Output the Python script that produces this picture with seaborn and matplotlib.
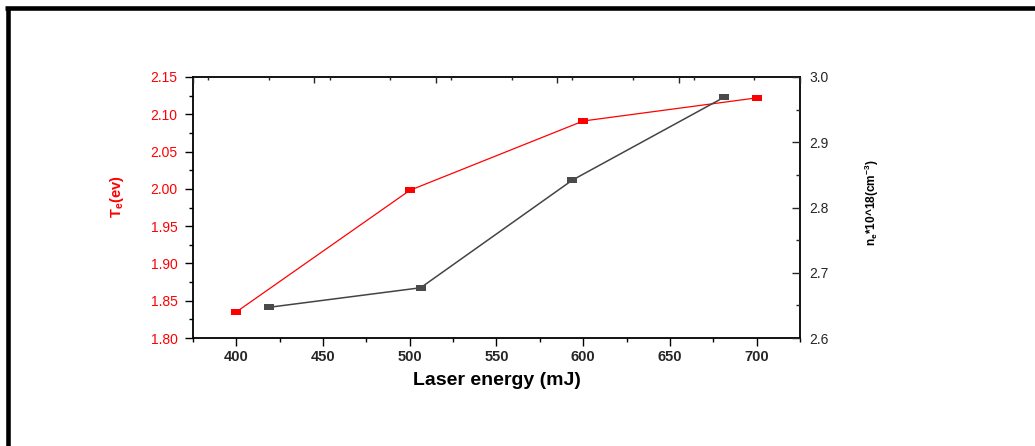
import numpy as np
import matplotlib
matplotlib.use("Agg")
import matplotlib.pyplot as plt
import seaborn as sns
from matplotlib.lines import Line2D
from matplotlib.ticker import MultipleLocator, FormatStrFormatter

# Data
energy_te = [400, 500, 600, 700]
te_values = [1.835, 1.998, 2.091, 2.122]
energy_ne = [400, 500, 600, 700]
ne_values = [2.647, 2.677, 2.842, 2.969]

sns.set_style("ticks")
plt.rcParams['font.family'] = ['Liberation Sans', 'DejaVu Sans']
plt.rcParams['mathtext.fontset'] = 'custom'
plt.rcParams['mathtext.rm'] = 'Liberation Sans'
plt.rcParams['mathtext.bf'] = 'Liberation Sans:bold'
plt.rcParams['mathtext.default'] = 'bf'

W, H = 1035, 446
fig = plt.figure(figsize=(W / 100, H / 100), dpi=100)
fig.patch.set_facecolor('white')

pos = [193 / W, 1 - 338 / H, (800 - 193) / W, (338 - 77) / H]
ax = fig.add_axes(pos)
ax2 = fig.add_axes(pos, facecolor='none')

rect = [(-1, -0.6), (1, -0.6), (1, 0.6), (-1, 0.6), (-1, -0.6)]

sns.lineplot(x=energy_te, y=te_values, ax=ax, color='#ff0000', linewidth=0.9,
             marker=rect, markersize=7.5, markeredgewidth=0, markerfacecolor='#ff0000')
sns.lineplot(x=energy_ne, y=ne_values, ax=ax2, color='#444444', linewidth=1.1,
             marker=rect, markersize=7.5, markeredgewidth=0, markerfacecolor='#4a4a4a')

# primary axis (red Te)
ax.set_xlim(375, 725)
ax.set_ylim(1.80, 2.15)
ax.xaxis.set_major_locator(MultipleLocator(50))
ax.xaxis.set_minor_locator(MultipleLocator(25))
ax.yaxis.set_major_locator(MultipleLocator(0.05))
ax.yaxis.set_minor_locator(MultipleLocator(0.025))
ax.yaxis.set_major_formatter(FormatStrFormatter('%.2f'))
ax.tick_params(axis='both', which='major', direction='out', length=6, width=1.0, color='black')
ax.tick_params(axis='both', which='minor', direction='out', length=3, width=1.0, color='black')
ax.tick_params(axis='y', labelcolor='#ff0000', labelsize=10, pad=5)
ax.tick_params(axis='x', labelsize=10.5, pad=2.5)
for lab in ax.get_xticklabels():
    lab.set_fontweight('bold')
for sp in ax.spines.values():
    sp.set_visible(True)
    sp.set_linewidth(1.3)
    sp.set_color('black')
ax.set_xlabel('Laser energy (mJ)', fontsize=14, fontweight='bold', color='black')
ax.xaxis.set_label_coords(0.50, -0.13)
ax.set_ylabel(r'T$_e$(ev)', fontsize=10.5, fontweight='bold', color='#ff0000')
ax.yaxis.set_label_coords(-0.111, 0.54)

# secondary axis (black ne)
ax2.set_xlim(350, 750)
ax2.set_ylim(2.6, 3.0)
ax2.xaxis.tick_top()
ax2.yaxis.tick_right()
ax2.yaxis.set_label_position('right')
ax2.set_xticks(np.arange(350, 751, 80))
ax2.xaxis.set_minor_locator(MultipleLocator(40))
ax2.yaxis.set_major_locator(MultipleLocator(0.1))
ax2.yaxis.set_minor_locator(MultipleLocator(0.05))
ax2.yaxis.set_major_formatter(FormatStrFormatter('%.1f'))
ax2.tick_params(axis='x', which='both', labeltop=False, labelbottom=False, direction='in')
ax2.tick_params(axis='x', which='major', length=4, width=1.0)
ax2.tick_params(axis='x', which='minor', length=2.5, width=1.0)
ax2.tick_params(axis='y', which='major', direction='in', length=6, width=1.0, labelsize=10, pad=7)
ax2.tick_params(axis='y', which='minor', direction='in', length=3, width=1.0)
for sp in ax2.spines.values():
    sp.set_visible(False)
ax2.set_xlabel('')
ax2.set_ylabel(r'n$_e$*10^18(cm$^{-3}$)', fontsize=8.6, fontweight='bold', color='black',
               rotation=90)
ax2.yaxis.set_label_coords(1.104, 0.52)

# outer frame of the original picture
fig.add_artist(Line2D([7.5 / W, 7.5 / W], [0, 1 - 8 / H], transform=fig.transFigure,
                      color='black', linewidth=3.3, solid_capstyle='butt'))
fig.add_artist(Line2D([5.2 / W, 1], [1 - 8 / H, 1 - 8 / H], transform=fig.transFigure,
                      color='black', linewidth=3.3, solid_capstyle='butt'))

fig.savefig('out.png', dpi=100)
